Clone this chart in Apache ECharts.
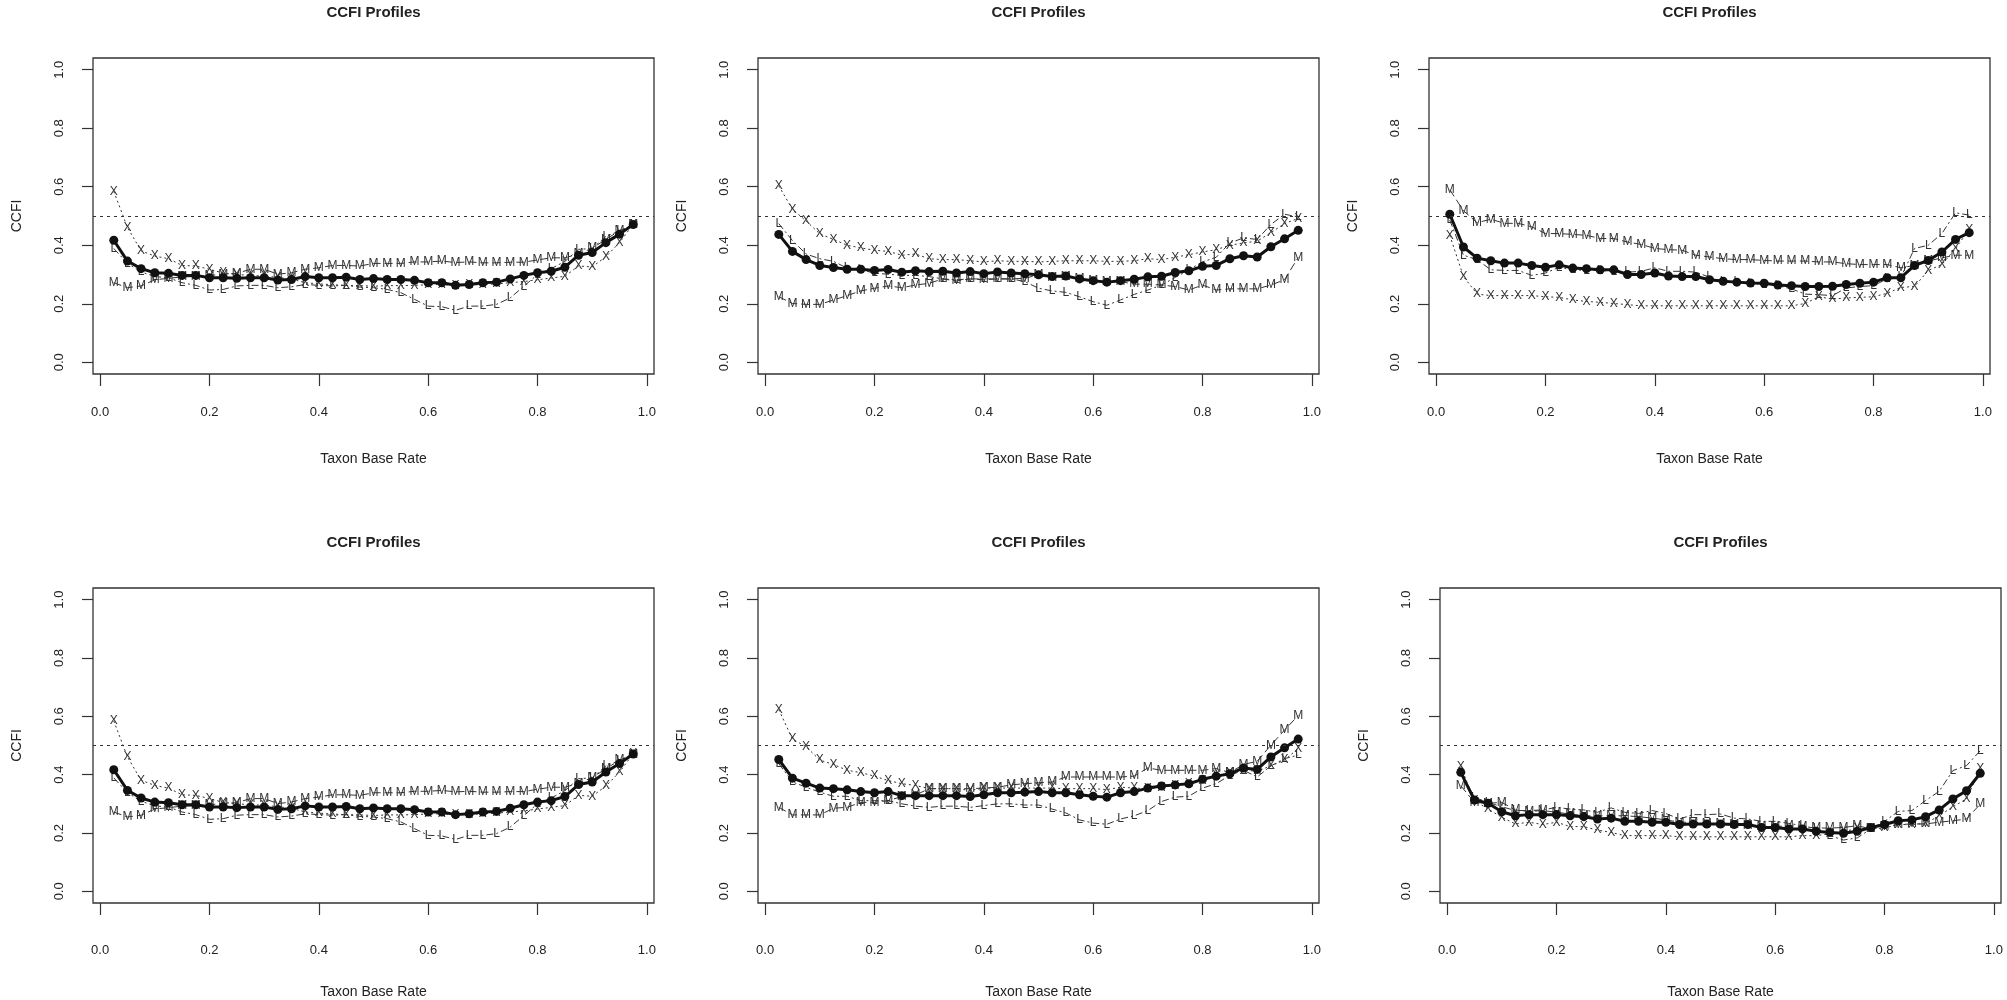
<!DOCTYPE html>
<html>
<head>
<meta charset="utf-8">
<script src="https://cdn.jsdelivr.net/npm/echarts@6/dist/echarts.min.js"></script>
<style>
  html, body { margin: 0; background: #fff; }
  #chart { width: 2007px; height: 1000px; }
</style>
</head>
<body>
<div id="chart"></div>
<script>
// taxon base rates (x)
const baseRate = [0.025, 0.05, 0.075, 0.1, 0.125, 0.15, 0.175, 0.2, 0.225, 0.25,
  0.275, 0.3, 0.325, 0.35, 0.375, 0.4, 0.425, 0.45, 0.475, 0.5,
  0.525, 0.55, 0.575, 0.6, 0.625, 0.65, 0.675, 0.7, 0.725, 0.75,
  0.775, 0.8, 0.825, 0.85, 0.875, 0.9, 0.925, 0.95, 0.975];
const tickValues = [0, 0.2, 0.4, 0.6, 0.8, 1.0];

// panel 1 (also shown as panel 4)
const p1Mean = [0.417, 0.346, 0.320, 0.306, 0.304, 0.297, 0.297, 0.289, 0.289, 0.287,
  0.289, 0.289, 0.281, 0.283, 0.293, 0.289, 0.289, 0.291, 0.283, 0.286,
  0.283, 0.283, 0.280, 0.272, 0.272, 0.263, 0.266, 0.272, 0.274, 0.285,
  0.297, 0.306, 0.311, 0.325, 0.366, 0.375, 0.409, 0.438, 0.471];
const p1M = [0.272, 0.255, 0.261, 0.282, 0.287, 0.292, 0.293, 0.297, 0.301, 0.304,
  0.318, 0.318, 0.301, 0.306, 0.318, 0.323, 0.331, 0.331, 0.329, 0.338,
  0.338, 0.338, 0.343, 0.343, 0.346, 0.341, 0.343, 0.340, 0.340, 0.342,
  0.342, 0.350, 0.357, 0.357, 0.370, 0.390, 0.420, 0.450, 0.470];
const p1L = [0.389, 0.338, 0.309, 0.293, 0.289, 0.272, 0.263, 0.247, 0.249, 0.261,
  0.263, 0.263, 0.255, 0.258, 0.266, 0.263, 0.261, 0.263, 0.257, 0.255,
  0.249, 0.238, 0.215, 0.192, 0.190, 0.178, 0.192, 0.192, 0.198, 0.220,
  0.260, 0.300, 0.320, 0.345, 0.386, 0.389, 0.430, 0.449, 0.470];
const p1X = [0.584, 0.461, 0.381, 0.363, 0.354, 0.331, 0.329, 0.318, 0.305, 0.300,
  0.297, 0.295, 0.290, 0.285, 0.272, 0.268, 0.265, 0.263, 0.262, 0.260,
  0.262, 0.262, 0.263, 0.265, 0.266, 0.262, 0.264, 0.266, 0.268, 0.272,
  0.276, 0.282, 0.288, 0.294, 0.329, 0.326, 0.361, 0.409, 0.472];

// panel 2
const p2Mean = [0.437, 0.379, 0.351, 0.331, 0.324, 0.318, 0.318, 0.314, 0.317, 0.308,
  0.313, 0.310, 0.311, 0.305, 0.310, 0.303, 0.309, 0.305, 0.303, 0.299,
  0.293, 0.295, 0.285, 0.279, 0.274, 0.279, 0.284, 0.292, 0.294, 0.307,
  0.313, 0.328, 0.331, 0.354, 0.364, 0.360, 0.395, 0.422, 0.451];
const p2M = [0.224, 0.201, 0.198, 0.198, 0.213, 0.228, 0.244, 0.253, 0.261, 0.255,
  0.264, 0.270, 0.285, 0.278, 0.285, 0.282, 0.285, 0.285, 0.287, 0.299,
  0.290, 0.293, 0.285, 0.278, 0.276, 0.276, 0.267, 0.267, 0.264, 0.259,
  0.247, 0.264, 0.247, 0.251, 0.251, 0.251, 0.264, 0.282, 0.359];
const p2L = [0.474, 0.416, 0.370, 0.354, 0.345, 0.322, 0.316, 0.305, 0.301, 0.297,
  0.297, 0.293, 0.285, 0.282, 0.285, 0.285, 0.285, 0.285, 0.276, 0.253,
  0.244, 0.239, 0.224, 0.207, 0.195, 0.213, 0.232, 0.247, 0.264, 0.290,
  0.316, 0.343, 0.359, 0.408, 0.425, 0.420, 0.471, 0.506, 0.497];
const p2X = [0.603, 0.523, 0.483, 0.439, 0.420, 0.400, 0.391, 0.383, 0.379, 0.366,
  0.370, 0.354, 0.351, 0.351, 0.347, 0.343, 0.347, 0.345, 0.345, 0.343,
  0.345, 0.347, 0.347, 0.347, 0.345, 0.345, 0.347, 0.354, 0.351, 0.359,
  0.368, 0.377, 0.385, 0.400, 0.408, 0.414, 0.443, 0.474, 0.492];

// panel 3
const p3Mean = [0.506, 0.394, 0.356, 0.347, 0.339, 0.339, 0.331, 0.325, 0.333, 0.322,
  0.320, 0.316, 0.316, 0.300, 0.300, 0.305, 0.295, 0.293, 0.293, 0.282,
  0.277, 0.274, 0.271, 0.270, 0.264, 0.262, 0.259, 0.259, 0.260, 0.266,
  0.270, 0.274, 0.289, 0.289, 0.331, 0.348, 0.377, 0.420, 0.443];
const p3M = [0.590, 0.518, 0.477, 0.489, 0.475, 0.475, 0.463, 0.440, 0.440, 0.437,
  0.434, 0.423, 0.423, 0.411, 0.403, 0.389, 0.385, 0.383, 0.366, 0.360,
  0.354, 0.351, 0.351, 0.348, 0.346, 0.346, 0.346, 0.343, 0.343, 0.337,
  0.334, 0.334, 0.334, 0.323, 0.331, 0.346, 0.357, 0.366, 0.366];
const p3L = [0.486, 0.366, 0.351, 0.316, 0.314, 0.314, 0.297, 0.305, 0.325, 0.316,
  0.314, 0.314, 0.311, 0.308, 0.311, 0.323, 0.311, 0.311, 0.308, 0.291,
  0.277, 0.274, 0.270, 0.266, 0.262, 0.251, 0.233, 0.231, 0.228, 0.254,
  0.259, 0.262, 0.285, 0.291, 0.389, 0.400, 0.440, 0.511, 0.503];
const p3X = [0.434, 0.293, 0.233, 0.228, 0.228, 0.228, 0.228, 0.224, 0.222, 0.213,
  0.208, 0.205, 0.201, 0.197, 0.193, 0.193, 0.193, 0.193, 0.193, 0.193,
  0.193, 0.193, 0.193, 0.193, 0.193, 0.193, 0.201, 0.224, 0.216, 0.220,
  0.222, 0.224, 0.236, 0.256, 0.259, 0.314, 0.334, 0.389, 0.454];

// panel 5
const p5Mean = [0.452, 0.388, 0.371, 0.354, 0.352, 0.348, 0.342, 0.338, 0.342, 0.328,
  0.328, 0.328, 0.328, 0.328, 0.325, 0.331, 0.338, 0.338, 0.340, 0.342,
  0.338, 0.338, 0.331, 0.326, 0.323, 0.338, 0.342, 0.354, 0.361, 0.365,
  0.369, 0.384, 0.395, 0.403, 0.423, 0.418, 0.461, 0.492, 0.522];
const p5M = [0.288, 0.262, 0.262, 0.262, 0.285, 0.288, 0.305, 0.305, 0.311, 0.325,
  0.330, 0.352, 0.352, 0.352, 0.352, 0.354, 0.357, 0.365, 0.369, 0.372,
  0.375, 0.392, 0.392, 0.392, 0.392, 0.392, 0.395, 0.423, 0.415, 0.415,
  0.415, 0.415, 0.421, 0.407, 0.435, 0.446, 0.501, 0.553, 0.603];
const p5L = [0.438, 0.375, 0.357, 0.340, 0.326, 0.326, 0.311, 0.311, 0.311, 0.300,
  0.292, 0.288, 0.292, 0.292, 0.288, 0.294, 0.300, 0.300, 0.296, 0.296,
  0.282, 0.269, 0.245, 0.234, 0.230, 0.248, 0.259, 0.277, 0.308, 0.323,
  0.326, 0.354, 0.369, 0.398, 0.415, 0.392, 0.430, 0.455, 0.467];
const p5X = [0.623, 0.522, 0.496, 0.450, 0.435, 0.415, 0.407, 0.395, 0.380, 0.369,
  0.363, 0.352, 0.352, 0.352, 0.346, 0.354, 0.354, 0.354, 0.354, 0.354,
  0.354, 0.352, 0.352, 0.352, 0.349, 0.357, 0.354, 0.352, 0.357, 0.363,
  0.369, 0.380, 0.395, 0.407, 0.415, 0.412, 0.430, 0.450, 0.490];

// panel 6
const p6Mean = [0.408, 0.313, 0.302, 0.273, 0.259, 0.263, 0.263, 0.263, 0.259, 0.256,
  0.248, 0.251, 0.240, 0.240, 0.237, 0.237, 0.229, 0.231, 0.231, 0.231,
  0.229, 0.229, 0.219, 0.219, 0.214, 0.214, 0.206, 0.202, 0.199, 0.206,
  0.219, 0.229, 0.242, 0.245, 0.256, 0.279, 0.317, 0.345, 0.405];
const p6M = [0.362, 0.305, 0.302, 0.305, 0.279, 0.274, 0.277, 0.271, 0.265, 0.259,
  0.259, 0.259, 0.259, 0.256, 0.251, 0.245, 0.237, 0.237, 0.233, 0.231,
  0.229, 0.225, 0.222, 0.222, 0.225, 0.222, 0.217, 0.217, 0.219, 0.225,
  0.214, 0.222, 0.229, 0.231, 0.231, 0.237, 0.242, 0.248, 0.299];
const p6L = [0.408, 0.322, 0.305, 0.290, 0.277, 0.277, 0.279, 0.288, 0.282, 0.279,
  0.271, 0.286, 0.271, 0.267, 0.277, 0.267, 0.248, 0.263, 0.263, 0.265,
  0.251, 0.248, 0.240, 0.240, 0.233, 0.225, 0.214, 0.191, 0.176, 0.183,
  0.214, 0.240, 0.274, 0.277, 0.311, 0.343, 0.414, 0.431, 0.482];
const p6X = [0.427, 0.311, 0.282, 0.254, 0.231, 0.237, 0.229, 0.237, 0.222, 0.222,
  0.210, 0.202, 0.191, 0.191, 0.191, 0.191, 0.187, 0.187, 0.187, 0.187,
  0.187, 0.187, 0.187, 0.187, 0.187, 0.191, 0.191, 0.197, 0.206, 0.214,
  0.214, 0.217, 0.229, 0.229, 0.233, 0.259, 0.290, 0.317, 0.419];

const panels = [
  { mean: p1Mean, M: p1M, L: p1L, X: p1X },
  { mean: p2Mean, M: p2M, L: p2L, X: p2X },
  { mean: p3Mean, M: p3M, L: p3L, X: p3X },
  { mean: p1Mean, M: p1M, L: p1L, X: p1X },
  { mean: p5Mean, M: p5M, L: p5L, X: p5X },
  { mean: p6Mean, M: p6M, L: p6L, X: p6X }
];

// box positions of each panel (left, top)
const boxes = [[93, 58], [758, 58], [1429, 58], [93, 588], [758, 588], [1440, 588]];
const boxW = 561, boxH = 316;

const FONT = 'Liberation Sans, Arial, Helvetica, sans-serif';
const INK = '#222';

const chart = echarts.init(document.getElementById('chart'));

const pairs = (ys) => baseRate.map((x, i) => [x, ys[i]]);

const letterSeries = (idx, letter, values, dash) => ({
  type: 'line',
  xAxisIndex: idx,
  yAxisIndex: idx,
  data: pairs(values),
  symbol: 'circle',
  symbolSize: 1,
  itemStyle: { color: 'rgba(0,0,0,0)' },
  lineStyle: { color: '#333', width: 1, type: dash },
  label: {
    show: true,
    position: 'inside',
    formatter: letter,
    color: '#333',
    fontSize: 12,
    fontFamily: FONT
  },
  z: 2
});

const series = [];
panels.forEach((p, i) => {
  series.push(letterSeries(i, 'M', p.M, [8, 4]));
  series.push(letterSeries(i, 'L', p.L, [7, 3, 2, 3]));
  series.push(letterSeries(i, 'X', p.X, [2, 3]));
  series.push({
    type: 'line',
    xAxisIndex: i,
    yAxisIndex: i,
    data: pairs(p.mean),
    symbol: 'circle',
    symbolSize: 9,
    itemStyle: { color: '#111' },
    lineStyle: { color: '#111', width: 3 },
    z: 3,
    markLine: {
      silent: true,
      symbol: ['none', 'none'],
      label: { show: false },
      lineStyle: { color: '#333', width: 1.2, type: [3, 4] },
      data: [{ yAxis: 0.5 }]
    }
  });
});

chart.setOption({
  animation: false,
  backgroundColor: '#fff',
  grid: boxes.map(([l, t]) => ({
    left: l, top: t, width: boxW, height: boxH,
    show: true, borderColor: '#333', borderWidth: 1.3, backgroundColor: 'transparent'
  })),
  xAxis: boxes.map((b, i) => ({
    gridIndex: i,
    type: 'value',
    min: -0.013,
    max: 1.013,
    axisLine: { show: false, onZero: false },
    splitLine: { show: false },
    axisTick: { show: true, customValues: tickValues, length: 12, lineStyle: { color: '#333', width: 1.2 } },
    axisLabel: {
      customValues: tickValues, formatter: (v) => v.toFixed(1),
      margin: i < 3 ? 32 : 41, fontSize: 13, color: INK, fontFamily: FONT
    },
    name: 'Taxon Base Rate',
    nameLocation: 'middle',
    nameGap: i < 3 ? 78 : 82,
    nameTextStyle: { fontSize: 14, color: INK, fontFamily: FONT }
  })),
  yAxis: boxes.map((b, i) => ({
    gridIndex: i,
    type: 'value',
    min: -0.04,
    max: 1.04,
    axisLine: { show: false, onZero: false },
    splitLine: { show: false },
    axisTick: { show: true, customValues: tickValues, length: 11, lineStyle: { color: '#333', width: 1.2 } },
    axisLabel: { customValues: tickValues, formatter: (v) => v.toFixed(1), rotate: 90, margin: 27, fontSize: 13, color: INK, fontFamily: FONT },
    name: 'CCFI',
    nameLocation: 'middle',
    nameGap: 69,
    nameTextStyle: { fontSize: 14, color: INK, fontFamily: FONT }
  })),
  graphic: boxes.map(([l, t]) => ({
    type: 'text',
    x: l + boxW / 2,
    y: t - 45,
    style: {
      text: 'CCFI Profiles',
      font: 'bold 15px ' + FONT,
      fill: INK,
      textAlign: 'center',
      textVerticalAlign: 'middle'
    }
  })),
  series: series
});
</script>
</body>
</html>
